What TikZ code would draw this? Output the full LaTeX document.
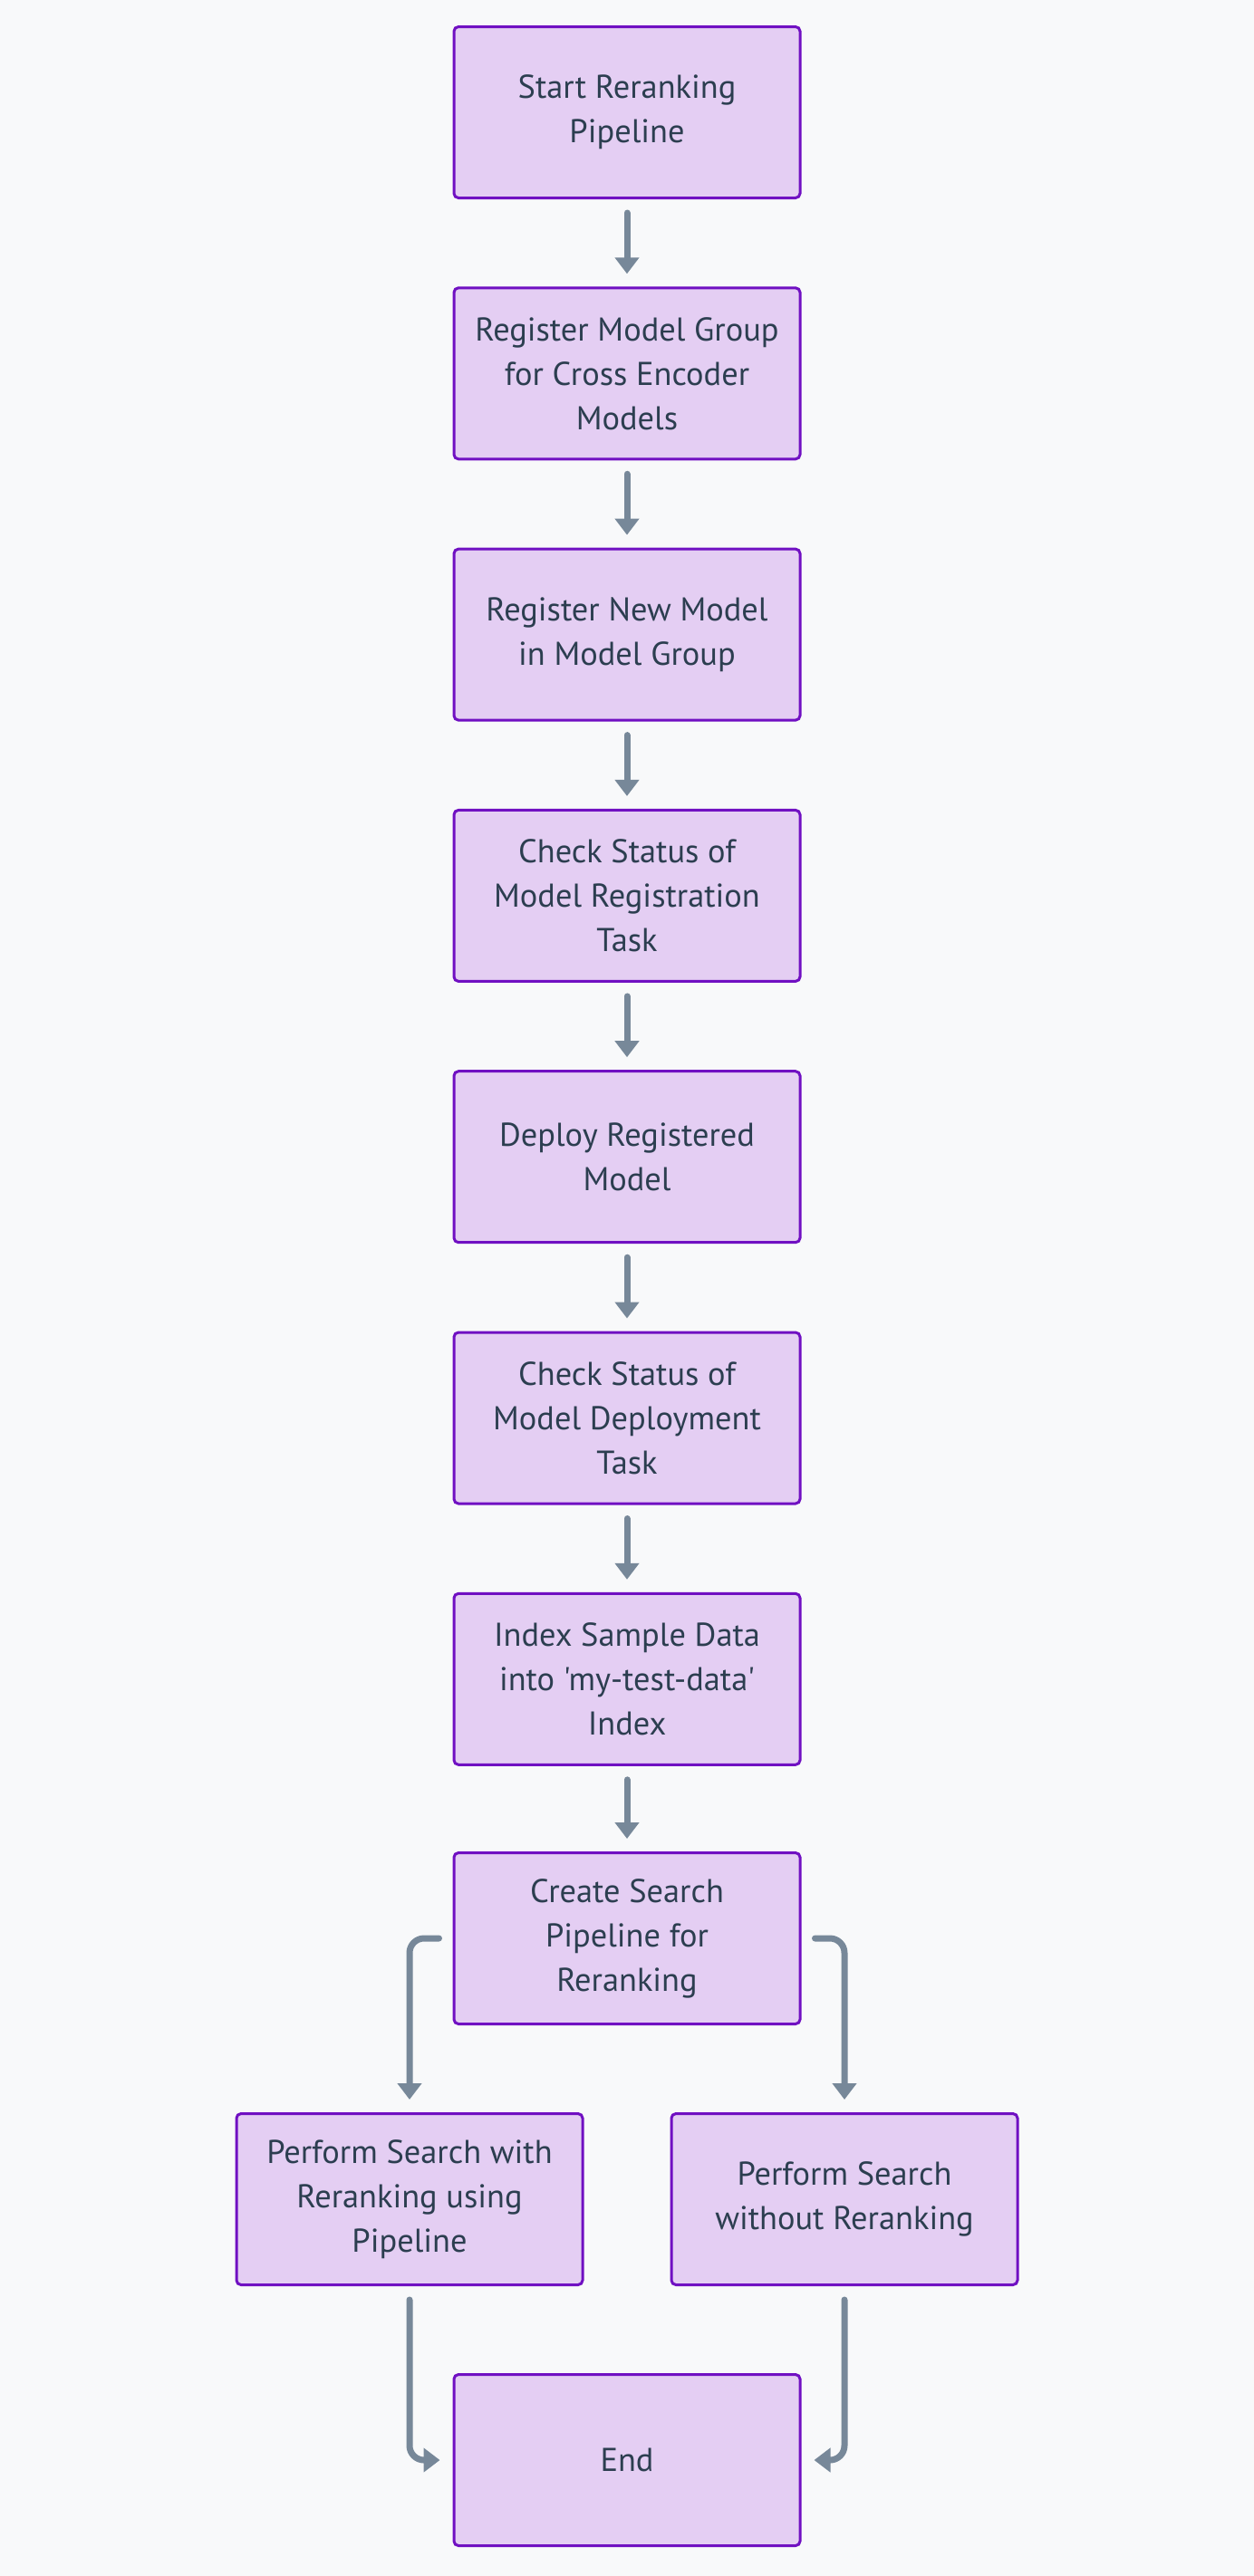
\documentclass[tikz,border=0pt]{standalone}
\usepackage{fontspec}
\setmainfont{PT Sans}[Ligatures=TeXOff]
\usetikzlibrary{arrows.meta}
\definecolor{pagebg}{HTML}{F8F9FA}
\definecolor{stepfill}{HTML}{E4CEF3}
\definecolor{stepline}{HTML}{7010C2}
\definecolor{steptext}{HTML}{2C3E50}
\definecolor{flowgray}{HTML}{778899}
\tikzset{
  stepbox/.style={draw=stepline, fill=stepfill, line width=1.5pt, rounded corners=2.5pt,
    minimum width=191pt, minimum height=94.5pt, align=center, text=steptext,
    font=\fontsize{18.2}{24.5}\selectfont},
  flow/.style={draw=flowgray, line width=3.5pt, line cap=round, rounded corners=8pt,
    -{Triangle[length=9pt,width=13pt]}, shorten <=7.5pt, shorten >=7pt}
}
\begin{document}
\begin{tikzpicture}
% Page
\fill[pagebg] (0,0) rectangle (692pt,-1422pt);
\useasboundingbox (0,0) rectangle (692pt,-1422pt);
% Main chain
\node[stepbox] (start) at (346pt,-62pt) {Start Reranking\\Pipeline};
\node[stepbox] (group) at (346pt,-206.15pt) {Register Model Group\\for Cross Encoder\\Models};
\node[stepbox] (model) at (346pt,-350.3pt) {Register New Model\\in Model Group};
\node[stepbox] (regstat) at (346pt,-494.45pt) {Check Status of\\Model Registration\\Task};
\node[stepbox] (deploy) at (346pt,-638.6pt) {Deploy Registered\\Model};
\node[stepbox] (depstat) at (346pt,-782.75pt) {Check Status of\\Model Deployment\\Task};
\node[stepbox] (index) at (346pt,-926.9pt) {Index Sample Data\\into 'my-test-data'\\Index};
\node[stepbox] (pipe) at (346pt,-1070pt) {Create Search\\Pipeline for\\Reranking};
% Branches
\node[stepbox] (withrr) at (226pt,-1214pt) {Perform Search with\\Reranking using\\Pipeline};
\node[stepbox] (norr) at (466pt,-1214pt) {Perform Search\\without Reranking};
\node[stepbox] (end) at (346pt,-1358pt) {End};
% Arrows
\draw[flow] (start) -- (group);
\draw[flow] (group) -- (model);
\draw[flow] (model) -- (regstat);
\draw[flow] (regstat) -- (deploy);
\draw[flow] (deploy) -- (depstat);
\draw[flow] (depstat) -- (index);
\draw[flow] (index) -- (pipe);
\draw[flow] (pipe.west) -| (withrr.north);
\draw[flow] (pipe.east) -| (norr.north);
\draw[flow] (withrr.south) |- (end.west);
\draw[flow] (norr.south) |- (end.east);
\end{tikzpicture}
\end{document}
